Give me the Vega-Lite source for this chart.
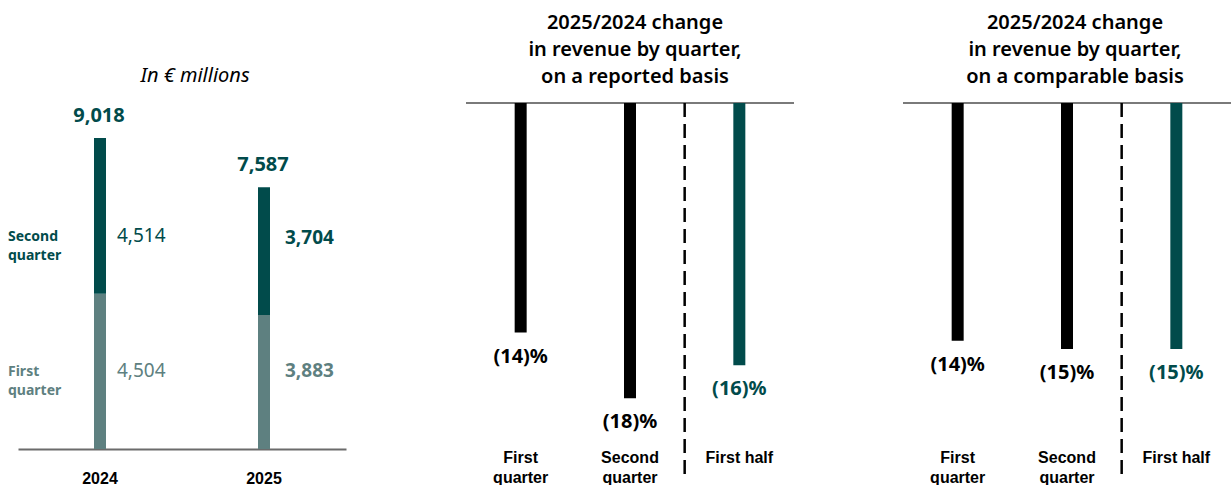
{
  "$schema": "https://vega.github.io/schema/vega-lite/v6.json",
  "background": "white",
  "padding": {"left": 8, "top": 12, "right": 0, "bottom": 0},
  "bounds": "flush",
  "spacing": 120,
  "config": {
    "view": {"stroke": null},
    "axis": {"grid": false},
    "text": {"font": "Noto Sans"},
    "title": {"font": "Noto Sans", "color": "#000000", "anchor": "middle", "frame": "group"}
  },
  "datasets": {
    "revenue": [
      {"year": "2024", "quarter": "First quarter", "revenue": 4504},
      {"year": "2024", "quarter": "Second quarter", "revenue": 4514},
      {"year": "2025", "quarter": "First quarter", "revenue": 3883},
      {"year": "2025", "quarter": "Second quarter", "revenue": 3704}
    ],
    "change": [
      {"basis": "reported", "period": "First quarter", "change": -14, "label": "(14)%"},
      {"basis": "reported", "period": "Second quarter", "change": -18, "label": "(18)%"},
      {"basis": "reported", "period": "First half", "change": -16, "label": "(16)%"},
      {"basis": "comparable", "period": "First quarter", "change": -14.5, "label": "(14)%"},
      {"basis": "comparable", "period": "Second quarter", "change": -15, "label": "(15)%"},
      {"basis": "comparable", "period": "First half", "change": -15, "label": "(15)%"}
    ]
  },
  "hconcat": [
    {
      "width": 328,
      "height": 346,
      "title": {"text": "In € millions", "fontSize": 20, "fontStyle": "italic", "fontWeight": "normal", "dx": 13, "offset": 17},
      "data": {"name": "revenue"},
      "layer": [
        {
          "mark": {"type": "bar", "width": 12},
          "encoding": {
            "x": {
              "field": "year", "type": "nominal",
              "scale": {"paddingInner": 0, "paddingOuter": 0},
              "axis": {
                "orient": "bottom", "title": null, "domain": true, "domainColor": "#6b6b6b", "domainWidth": 2,
                "ticks": false, "tickSize": 0, "labelAngle": 0, "labelAlign": "center", "labelFont": "Liberation Sans",
                "labelFontWeight": "bold", "labelFontSize": 16, "labelColor": "#000000", "labelPadding": 21
              }
            },
            "y": {"field": "revenue", "type": "quantitative", "stack": "zero", "scale": {"domain": [0, 10030], "nice": false}, "axis": null},
            "color": {"field": "quarter", "type": "nominal", "scale": {"domain": ["First quarter", "Second quarter"], "range": ["#5E8080", "#014B4B"]}, "legend": null},
            "order": {"field": "quarter", "type": "nominal", "sort": "ascending"}
          }
        },
        {
          "mark": {"type": "text", "fontSize": 20, "fontWeight": "bold", "color": "#014B4B", "baseline": "middle", "dy": -22, "dx": -1},
          "encoding": {
            "x": {"field": "year", "type": "nominal"},
            "y": {"aggregate": "sum", "field": "revenue", "type": "quantitative", "axis": null},
            "text": {"aggregate": "sum", "field": "revenue", "type": "quantitative", "format": ","}
          }
        },
        {
          "transform": [{"filter": "datum.year == '2024' && datum.quarter == 'Second quarter'"}],
          "mark": {"type": "text", "fontSize": 19, "fontWeight": "normal", "color": "#014B4B", "align": "left", "baseline": "middle", "dx": 17},
          "encoding": {
            "x": {"field": "year", "type": "nominal"},
            "y": {"datum": 6170, "type": "quantitative", "axis": null},
            "text": {"field": "revenue", "type": "quantitative", "format": ","}
          }
        },
        {
          "transform": [{"filter": "datum.year == '2024' && datum.quarter == 'First quarter'"}],
          "mark": {"type": "text", "fontSize": 19, "fontWeight": "normal", "color": "#5E8080", "align": "left", "baseline": "middle", "dx": 17},
          "encoding": {
            "x": {"field": "year", "type": "nominal"},
            "y": {"datum": 2260, "type": "quantitative", "axis": null},
            "text": {"field": "revenue", "type": "quantitative", "format": ","}
          }
        },
        {
          "transform": [{"filter": "datum.year == '2025' && datum.quarter == 'Second quarter'"}],
          "mark": {"type": "text", "fontSize": 19, "fontWeight": "bold", "color": "#014B4B", "align": "left", "baseline": "middle", "dx": 21},
          "encoding": {
            "x": {"field": "year", "type": "nominal"},
            "y": {"datum": 6120, "type": "quantitative", "axis": null},
            "text": {"field": "revenue", "type": "quantitative", "format": ","}
          }
        },
        {
          "transform": [{"filter": "datum.year == '2025' && datum.quarter == 'First quarter'"}],
          "mark": {"type": "text", "fontSize": 19, "fontWeight": "bold", "color": "#5E8080", "align": "left", "baseline": "middle", "dx": 21},
          "encoding": {
            "x": {"field": "year", "type": "nominal"},
            "y": {"datum": 2260, "type": "quantitative", "axis": null},
            "text": {"field": "revenue", "type": "quantitative", "format": ","}
          }
        },
        {
          "transform": [{"filter": "datum.year == '2024' && datum.quarter == 'Second quarter'"}],
          "mark": {"type": "text", "fontSize": 14, "fontWeight": "bold", "color": "#014B4B", "align": "left", "baseline": "middle", "dx": -92, "lineBreak": " ", "lineHeight": 19},
          "encoding": {
            "x": {"field": "year", "type": "nominal"},
            "y": {"datum": 6160, "type": "quantitative", "axis": null},
            "text": {"field": "quarter", "type": "nominal"}
          }
        },
        {
          "transform": [{"filter": "datum.year == '2024' && datum.quarter == 'First quarter'"}],
          "mark": {"type": "text", "fontSize": 14, "fontWeight": "bold", "color": "#5E8080", "align": "left", "baseline": "middle", "dx": -92, "lineBreak": " ", "lineHeight": 19},
          "encoding": {
            "x": {"field": "year", "type": "nominal"},
            "y": {"datum": 2220, "type": "quantitative", "axis": null},
            "text": {"field": "quarter", "type": "nominal"}
          }
        }
      ]
    },
    {
      "spacing": 109,
      "bounds": "flush",
      "hconcat": [
        {
          "width": 328,
          "height": 346,
          "title": {"text": ["2025/2024 change", "in revenue by quarter,", "on a reported basis"], "fontSize": 20, "fontWeight": 600, "lineHeight": 27, "dx": 5, "offset": 15},
          "data": {"name": "change"},
          "transform": [{"filter": "datum.basis == 'reported'"}],
          "layer": [
            {
              "transform": [{"filter": "datum.period == 'First half'"}],
              "mark": {"type": "rule", "color": "#7a7a7a", "strokeWidth": 2},
              "encoding": {"y": {"datum": 0, "type": "quantitative", "axis": null}}
            },
            {
              "transform": [{"filter": "datum.period == 'First half'"}],
              "mark": {"type": "rule", "color": "#000000", "strokeWidth": 2.5, "strokeDash": [14, 7]},
              "encoding": {
                "x": {"field": "period", "type": "nominal", "bandPosition": 0},
                "y": {"datum": 0, "type": "quantitative", "axis": null},
                "y2": {"datum": -22.8}
              }
            },
            {
              "mark": {"type": "bar", "width": 12},
              "encoding": {
                "x": {
                  "field": "period", "type": "nominal",
                  "scale": {"domain": ["First quarter", "Second quarter", "First half"], "paddingInner": 0, "paddingOuter": 0},
                  "axis": {
                    "orient": "bottom", "title": null, "domain": false, "ticks": false, "tickSize": 0, "labelAngle": 0,
                    "labelAlign": "center", "labelBaseline": "top",
                    "labelFont": "Liberation Sans", "labelFontWeight": "bold", "labelFontSize": 16, "labelColor": "#000000",
                    "labelPadding": 0, "labelLineHeight": 20,
                    "labelExpr": "datum.label == 'First half' ? datum.label : split(datum.label, ' ')"
                  }
                },
                "y": {"field": "change", "type": "quantitative", "scale": {"domain": [-21.1, 0], "nice": false}, "axis": null},
                "color": {"condition": {"test": "datum.period == 'First half'", "value": "#014B4B"}, "value": "#000000"}
              }
            },
            {
              "mark": {"type": "text", "fontSize": 20, "fontWeight": "bold", "baseline": "middle", "dy": 24},
              "encoding": {
                "x": {"field": "period", "type": "nominal"},
                "y": {"field": "change", "type": "quantitative", "axis": null},
                "text": {"field": "label", "type": "nominal"},
                "color": {"condition": {"test": "datum.period == 'First half'", "value": "#014B4B"}, "value": "#000000"}
              }
            }
          ]
        },
        {
          "width": 328,
          "height": 346,
          "title": {"text": ["2025/2024 change", "in revenue by quarter,", "on a comparable basis"], "fontSize": 20, "fontWeight": 600, "lineHeight": 27, "dx": 8, "offset": 15},
          "data": {"name": "change"},
          "transform": [{"filter": "datum.basis == 'comparable'"}],
          "layer": [
            {
              "transform": [{"filter": "datum.period == 'First half'"}],
              "mark": {"type": "rule", "color": "#7a7a7a", "strokeWidth": 2},
              "encoding": {"y": {"datum": 0, "type": "quantitative", "axis": null}}
            },
            {
              "transform": [{"filter": "datum.period == 'First half'"}],
              "mark": {"type": "rule", "color": "#000000", "strokeWidth": 2.5, "strokeDash": [14, 7]},
              "encoding": {
                "x": {"field": "period", "type": "nominal", "bandPosition": 0},
                "y": {"datum": 0, "type": "quantitative", "axis": null},
                "y2": {"datum": -22.8}
              }
            },
            {
              "mark": {"type": "bar", "width": 12},
              "encoding": {
                "x": {
                  "field": "period", "type": "nominal",
                  "scale": {"domain": ["First quarter", "Second quarter", "First half"], "paddingInner": 0, "paddingOuter": 0},
                  "axis": {
                    "orient": "bottom", "title": null, "domain": false, "ticks": false, "tickSize": 0, "labelAngle": 0,
                    "labelAlign": "center", "labelBaseline": "top",
                    "labelFont": "Liberation Sans", "labelFontWeight": "bold", "labelFontSize": 16, "labelColor": "#000000",
                    "labelPadding": 0, "labelLineHeight": 20,
                    "labelExpr": "datum.label == 'First half' ? datum.label : split(datum.label, ' ')"
                  }
                },
                "y": {"field": "change", "type": "quantitative", "scale": {"domain": [-21.1, 0], "nice": false}, "axis": null},
                "color": {"condition": {"test": "datum.period == 'First half'", "value": "#014B4B"}, "value": "#000000"}
              }
            },
            {
              "mark": {"type": "text", "fontSize": 20, "fontWeight": "bold", "baseline": "middle", "dy": 24},
              "encoding": {
                "x": {"field": "period", "type": "nominal"},
                "y": {"field": "change", "type": "quantitative", "axis": null},
                "text": {"field": "label", "type": "nominal"},
                "color": {"condition": {"test": "datum.period == 'First half'", "value": "#014B4B"}, "value": "#000000"}
              }
            }
          ]
        }
      ]
    }
  ]
}
